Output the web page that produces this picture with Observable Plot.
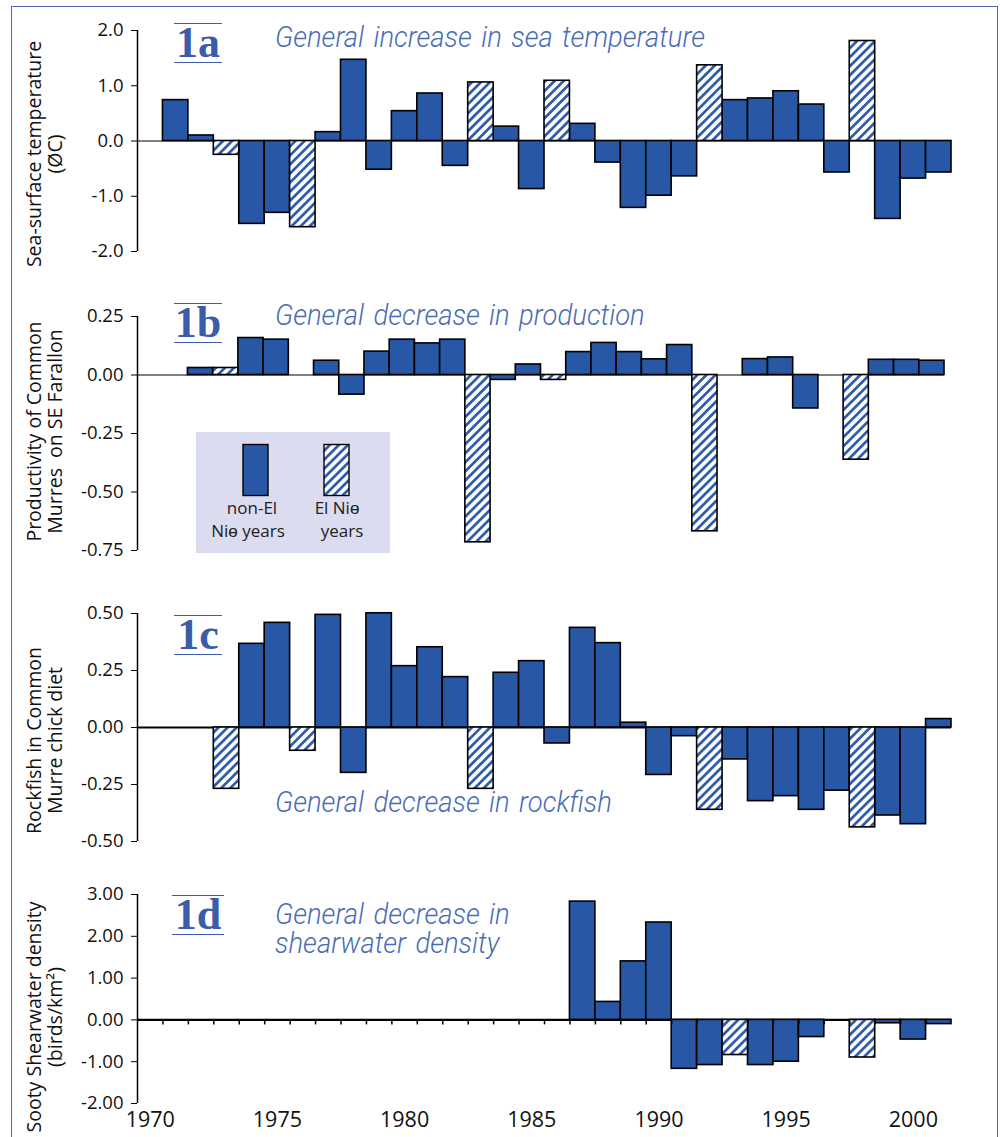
<!DOCTYPE html>
<html>
<head>
<meta charset="utf-8">
<script src="https://cdn.jsdelivr.net/npm/d3@7"></script>
<script src="https://cdn.jsdelivr.net/npm/@observablehq/plot@0.6"></script>
<style>
  body { margin: 0; background: #fff; }
  #root { position: relative; width: 1000px; height: 1137px; overflow: hidden; font-family: "Open Sans", sans-serif; }
  .panel { position: absolute; left: 0; }
  .tag { position: absolute; font-family: "Liberation Serif", serif; font-weight: bold; color: #3b5ca8;
         font-size: 44px; line-height: 38px; height: 38px; border-top: 1.5px solid #3b5ca8; border-bottom: 1.5px solid #3b5ca8;
         text-align: center; width: 48px; }
  .title { position: absolute; font-family: Roboto, sans-serif; font-weight: 300; font-style: italic; color: #4a6cb6;
           font-size: 30px; line-height: 29px; transform: scaleX(0.915); transform-origin: left top; white-space: nowrap; word-spacing: 3px; }
  #frame { position: absolute; left: 11px; top: 6px; width: 987px; height: 1160px; box-sizing: border-box;
           border: 1.5px solid #4a6ab2; pointer-events: none; }
  #legend { position: absolute; left: 196px; top: 432px; width: 194px; height: 121px; background: #dcdcf0; }
</style>
</head>
<body>
<svg width="0" height="0" style="position:absolute">
  <defs>
    <pattern id="hatch" patternUnits="userSpaceOnUse" width="6.4" height="6.4" patternTransform="rotate(45)">
      <rect width="6.4" height="6.4" fill="#ffffff"></rect>
      <rect width="2.7" height="6.4" fill="#2e5aab"></rect>
    </pattern>
  </defs>
</svg>
<div id="root"></div>
<script>
// ---------------- data ----------------
const years = d3.range(1970, 2002);                 // category years 1970..2001
const labelYears = [1970, 1975, 1980, 1985, 1990, 1995, 2000];

// 1a Sea-surface temperature anomaly
const seaTemp = [null, 0.74, 0.10, -0.25, -1.50, -1.30, -1.56, 0.16, 1.47, -0.52,
                 0.54, 0.86, -0.45, 1.06, 0.26, -0.87, 1.09, 0.31, -0.39, -1.21,
                 -0.99, -0.64, 1.37, 0.74, 0.77, 0.90, 0.66, -0.57, 1.81, -1.41,
                 -0.68, -0.57];
const ninoA = [1973, 1976, 1983, 1986, 1992, 1998];

// 1b Productivity of Common Murres
const murreProd = [null, null, 0.03, 0.03, 0.158, 0.151, null, 0.061, -0.084, 0.10,
                   0.151, 0.135, 0.151, -0.715, -0.021, 0.045, -0.021, 0.098, 0.137, 0.098,
                   0.067, 0.128, -0.668, null, 0.068, 0.075, -0.143, null, -0.362, 0.065,
                   0.065, 0.061];
const ninoB = [1973, 1983, 1986, 1992, 1998];

// 1c Rockfish in Common Murre chick diet
const rockfish = [null, null, null, -0.269, 0.367, 0.459, -0.102, 0.494, -0.199, 0.501,
                  0.269, 0.352, 0.221, -0.269, 0.240, 0.291, -0.070, 0.437, 0.370, 0.021,
                  -0.208, -0.038, -0.361, -0.140, -0.323, -0.301, -0.361, -0.277, -0.438, -0.386,
                  -0.424, 0.037];
const ninoC = [1973, 1976, 1983, 1992, 1998];

// 1d Sooty Shearwater density
const shearwater = [null, null, null, null, null, null, null, null, null, null,
                    null, null, null, null, null, null, null, 2.83, 0.43, 1.40,
                    2.33, -1.17, -1.08, -0.84, -1.08, -1.00, -0.41, null, -0.90, -0.08,
                    -0.47, -0.10];
const ninoD = [1993, 1998];

const yLabels = ["Sea-surface temperature\n(ØC)",
                 "Productivity of Common\nMurres  on SE Farallon",
                 "Rockfish in Common\nMurre chick diet",
                 "Sooty Shearwater density\n(birds/km²)"];
const titles = ["General increase in sea temperature",
                "General decrease in production",
                "General decrease in rockfish",
                "General decrease in\nshearwater density"];
const tags = ["1a", "1b", "1c", "1d"];

const BLUE = "#2757a5";

// ---------------- drawing ----------------
const root = document.getElementById("root");

function rows(values, nino) {
  return years.map((year, i) => ({year, value: values[i], nino: nino.includes(year)}))
              .filter(d => d.value != null);
}

function panel(cfg) {
  const data = rows(cfg.values, cfg.nino);
  const plotH = cfg.height - cfg.marginTop - cfg.marginBottom;
  const marks = [
    Plot.ruleY([0], {stroke: "#000", strokeWidth: cfg.zeroWidth}),
    Plot.rect(data.filter(d => !d.nino), {x1: "year", x2: d => d.year + 1, y1: 0, y2: "value",
      fill: BLUE, stroke: "#000", strokeWidth: 1.6}),
    Plot.rect(data.filter(d => d.nino), {x1: "year", x2: d => d.year + 1, y1: 0, y2: "value",
      fill: "url(#hatch)", stroke: "#000", strokeWidth: 1.6}),
    Plot.ruleX([years[0]], {y1: cfg.yDomain[0], y2: cfg.yDomain[1], stroke: "#000", strokeWidth: 1.5}),
    Plot.axisY({ticks: cfg.yTicks, tickFormat: d => d.toFixed(cfg.digits), tickSize: 6, tickPadding: 8,
      label: null, fontSize: 18.5, stroke: "#000"}),
    Plot.text([cfg.label], {text: d => d, frameAnchor: "left", textAnchor: "middle", rotate: -90,
      dx: -93, dy: cfg.labelDy, fontSize: 19.5, lineHeight: 1.1, fill: "#111"})
  ];
  if (cfg.xAxis) {
    const len = (cfg.yDomain[1] - cfg.yDomain[0]) * 5 / plotH;
    marks.push(Plot.ruleX(d3.range(1971, 2002), {y1: 0, y2: -len, stroke: "#000", strokeWidth: 1.5}));
    marks.push(Plot.axisX({ticks: labelYears.map(y => y + 0.5), tickFormat: d => String(Math.floor(d)),
      tickSize: 0, tickPadding: 8, fontSize: 21.5, label: null}));
  }
  const chart = Plot.plot({
    width: 1000, height: cfg.height,
    marginLeft: 137, marginRight: cfg.marginRight, marginTop: cfg.marginTop, marginBottom: cfg.marginBottom,
    x: cfg.xAxis ? {domain: [1970, 2002]} : {domain: [1970, 2002], axis: null},
    y: {domain: cfg.yDomain},
    style: {background: "transparent", fontFamily: "'Open Sans', sans-serif", fontSize: "18px", color: "#111", overflow: "visible"},
    marks
  });
  const wrap = document.createElement("div");
  wrap.className = "panel";
  wrap.style.top = cfg.top + "px";
  wrap.appendChild(chart);
  root.appendChild(wrap);
}

panel({values: seaTemp, nino: ninoA, yDomain: [-2, 2], yTicks: [-2, -1, 0, 1, 2], digits: 1,
       label: yLabels[0], top: 0, height: 283, marginTop: 30, marginBottom: 32, marginRight: 49,
       zeroWidth: 1, labelDy: 13});
panel({values: murreProd, nino: ninoB, yDomain: [-0.75, 0.25], yTicks: [-0.75, -0.5, -0.25, 0, 0.25], digits: 2,
       label: yLabels[1], top: 283, height: 290, marginTop: 33, marginBottom: 23, marginRight: 56,
       zeroWidth: 1.2, labelDy: -2});
panel({values: rockfish, nino: ninoC, yDomain: [-0.5, 0.5], yTicks: [-0.5, -0.25, 0, 0.25, 0.5], digits: 2,
       label: yLabels[2], top: 573, height: 287, marginTop: 40, marginBottom: 19, marginRight: 49,
       zeroWidth: 2, labelDy: 13});
panel({values: shearwater, nino: ninoD, yDomain: [-2, 3], yTicks: [-2, -1, 0, 1, 2, 3], digits: 2,
       label: yLabels[3], top: 860, height: 277, marginTop: 34, marginBottom: 34, marginRight: 49,
       zeroWidth: 2.2, labelDy: 18, xAxis: true});

// panel tags and titles
const tagPos = [[174, 22.5, 48], [174, 302.5, 48], [174, 615, 48], [172, 894.5, 52]];
tags.forEach((t, i) => {
  const d = document.createElement("div");
  d.className = "tag";
  d.textContent = t;
  d.style.left = tagPos[i][0] + "px";
  d.style.top = tagPos[i][1] + "px";
  d.style.width = tagPos[i][2] + "px";
  root.appendChild(d);
});
const titlePos = [[275, 22], [275, 300], [275, 787], [275, 899]];
titles.forEach((t, i) => {
  const d = document.createElement("div");
  d.className = "title";
  d.innerHTML = t.split("\n").join("<br>");
  d.style.left = titlePos[i][0] + "px";
  d.style.top = titlePos[i][1] + "px";
  root.appendChild(d);
});

// legend
const legend = document.createElement("div");
legend.id = "legend";
legend.innerHTML = `
<svg width="194" height="121" style="position:absolute;left:0;top:0;font-family:'Open Sans',sans-serif;font-size:17px;fill:#222">
  <rect x="47" y="12.5" width="25" height="51" fill="${BLUE}" stroke="#000" stroke-width="1.4"></rect>
  <rect x="128" y="12.5" width="25" height="51" fill="url(#hatch)" stroke="#000" stroke-width="1.4"></rect>
  <text x="56" y="82" text-anchor="middle">non-El</text>
  <text x="52" y="105" text-anchor="middle">Niɵ years</text>
  <text x="141" y="82" text-anchor="middle">El Niɵ</text>
  <text x="146" y="105" text-anchor="middle">years</text>
</svg>`;
root.appendChild(legend);

const frame = document.createElement("div");
frame.id = "frame";
root.appendChild(frame);
</script>
</body>
</html>
